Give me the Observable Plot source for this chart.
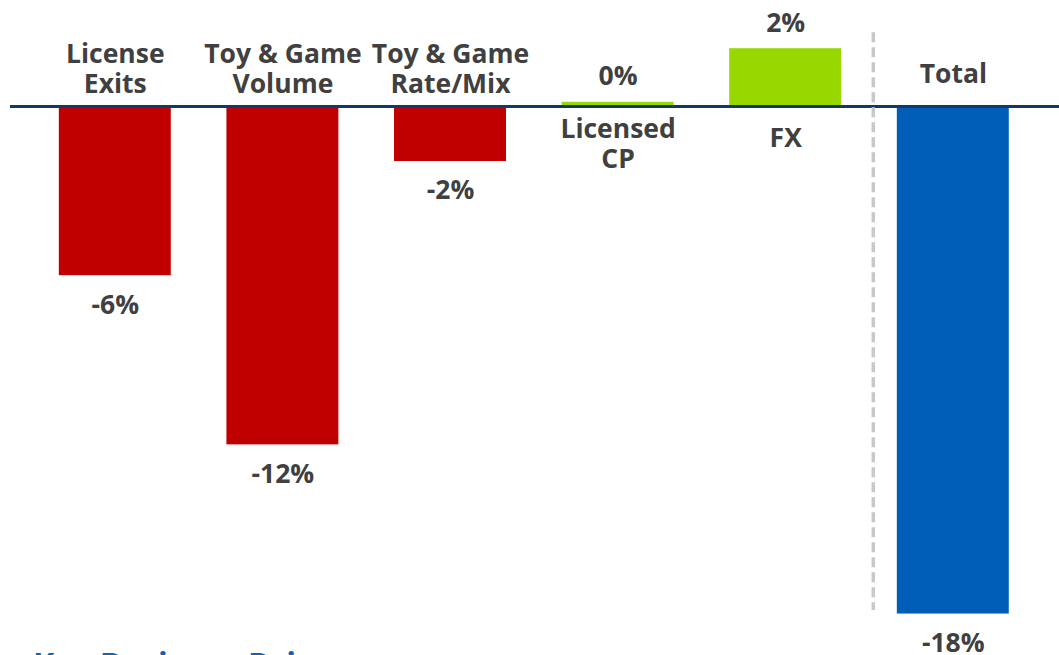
<!DOCTYPE html>
<html>
<head>
<meta charset="utf-8">
<script src="https://cdn.jsdelivr.net/npm/d3@7"></script>
<script src="https://cdn.jsdelivr.net/npm/@observablehq/plot@0.6"></script>
<style>
  html, body { margin: 0; padding: 0; background: #fff; overflow: hidden; }
  #wrap { position: relative; width: 1059px; height: 655px; }
  #chart svg { display: block; }
  #title { position: absolute; left: 0; top: 647px; font-family: "Open Sans", sans-serif; font-weight: 700; font-size: 32px; line-height: 34px; color: #0f62b6; padding-left: 33px; white-space: nowrap; }
</style>
</head>
<body>
<div id="wrap">
<div id="chart"></div>
<div id="title">Key Business Drivers</div>
</div>
<script>
const categories = ["License\nExits", "Toy & Game\nVolume", "Toy & Game\nRate/Mix", "Licensed\nCP", "FX", "Total"];
const values = [-6.0, -12.0, -1.95, 0.15, 2.05, -18.0];
const valueLabels = ["-6%", "-12%", "-2%", "0%", "2%", "-18%"];
const kinds = ["decrease", "decrease", "decrease", "increase", "increase", "total"];

const data = categories.map((c, i) => ({cat: c, value: values[i], label: valueLabels[i], kind: kinds[i]}));

const font = "Open Sans";
const textColor = "#404040";
const fs = 26.5;

const chart = Plot.plot({
  width: 1059,
  height: 655,
  marginLeft: 10,
  marginRight: 0,
  marginTop: 0,
  marginBottom: 0,
  style: {fontFamily: font, background: "transparent"},
  x: {domain: categories, range: [31, 1036.6], round: false, paddingInner: 0.332, paddingOuter: 0.166, axis: null},
  y: {domain: [-19.47, 3.76], axis: null},
  color: {domain: ["decrease", "increase", "total"], range: ["#c00000", "#99d700", "#005eb8"]},
  marks: [
    Plot.barY(data, {x: "cat", y: "value", fill: "kind"}),
    Plot.ruleY([0], {stroke: "#0d3b66", strokeWidth: 3}),
    Plot.ruleX(["Total"], {dx: -80, y1: 2.62, y2: -17.87, stroke: "#c8c8c8", strokeWidth: 3.5, strokeDasharray: "10,5"}),
    // category labels above the zero line (negative bars)
    Plot.text(data.filter(d => d.value < 0 && d.kind !== "total"), {x: "cat", y: 0, text: "cat", dy: -38, lineAnchor: "middle", lineHeight: 1.13, fontSize: fs, fontWeight: 700, fill: textColor}),
    Plot.text(data.filter(d => d.kind === "total"), {x: "cat", y: 0, text: "cat", dy: -32, lineAnchor: "middle", fontSize: fs, fontWeight: 700, fill: textColor}),
    // category labels below the zero line (positive bars)
    Plot.text(data.filter(d => d.value >= 0 && d.cat.includes("\n")), {x: "cat", y: 0, text: "cat", dy: 37, lineAnchor: "middle", lineHeight: 1.13, fontSize: fs, fontWeight: 700, fill: textColor}),
    Plot.text(data.filter(d => d.value >= 0 && !d.cat.includes("\n")), {x: "cat", y: 0, text: "cat", dy: 32, lineAnchor: "middle", fontSize: fs, fontWeight: 700, fill: textColor}),
    // value labels
    Plot.text(data.filter(d => d.value < 0), {x: "cat", y: "value", text: "label", dy: 19, lineAnchor: "top", fontSize: fs, fontWeight: 700, fill: textColor}),
    Plot.text(data.filter(d => d.value >= 0), {x: "cat", y: "value", text: "label", dy: -17, lineAnchor: "bottom", fontSize: fs, fontWeight: 700, fill: textColor})
  ]
});
document.getElementById("chart").appendChild(chart);
</script>
</body>
</html>
